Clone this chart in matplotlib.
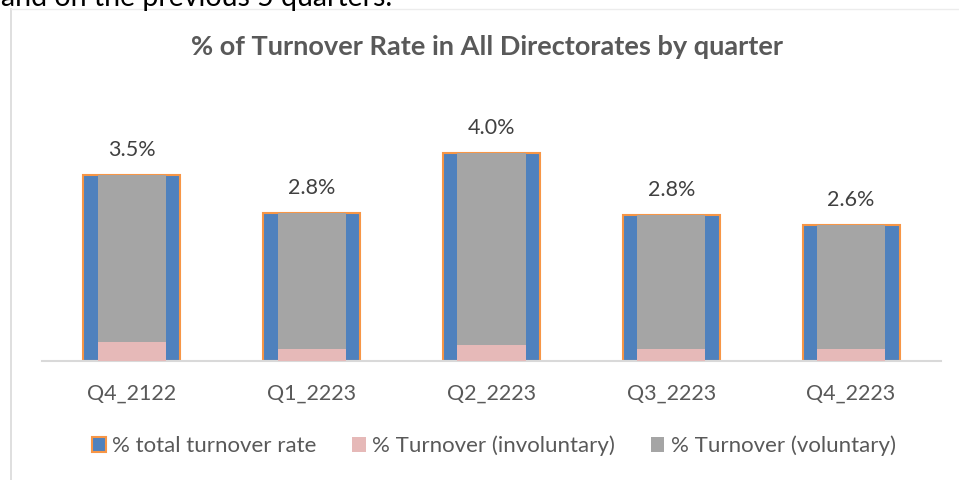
import matplotlib.pyplot as plt
from matplotlib.lines import Line2D
from matplotlib.patches import Patch

quarters = ['Q4_2122', 'Q1_2223', 'Q2_2223', 'Q3_2223', 'Q4_2223']
total = [3.54, 2.83, 3.96, 2.78, 2.59]
involuntary = [0.37, 0.23, 0.30, 0.23, 0.22]
voluntary = [t - i for t, i in zip(total, involuntary)]

plt.rcParams['font.family'] = ['Lato', 'DejaVu Sans']

W, H = 959, 480
fig = plt.figure(figsize=(W / 100, H / 100), dpi=100)

# axes placed in pixel terms: baseline at y=361, x from 42 to 941
ax = fig.add_axes([42 / W, (H - 361) / H, (941 - 42) / W, 236 / H])
x = range(len(quarters))
ax.bar(x, total, width=0.54, color='#4f81bd', edgecolor='#f79646', linewidth=1.5,
       label='% total turnover rate', zorder=2)
ax.bar(x, involuntary, width=0.38, color='#e6b9b8', label='% Turnover (involuntary)', zorder=3)
ax.bar(x, voluntary, width=0.38, bottom=involuntary, color='#a5a5a5',
       label='% Turnover (voluntary)', zorder=3)

for i, t in enumerate(total):
    ax.annotate(f'{t:.1f}%', (i, t), xytext=(0, 18), textcoords='offset points',
                ha='center', va='center', fontsize=15.5, color='#404040', clip_on=False)

ax.set_xlim(-0.5, 4.5)
ax.set_ylim(0, 4.5)
ax.set_xticks(list(x))
ax.set_xticklabels(quarters, fontsize=15.5, color='#595959')
ax.tick_params(axis='x', length=0, pad=16)
ax.set_yticks([])
for s in ['top', 'right', 'left']:
    ax.spines[s].set_visible(False)
ax.spines['bottom'].set_color('#d9d9d9')
ax.spines['bottom'].set_linewidth(1.5)

fig.text(487 / W, 1 - 47 / H, '% of Turnover Rate in All Directorates by quarter',
         ha='center', va='center', fontsize=19.5, fontweight='bold', color='#595959')

handles = [Patch(facecolor='#4f81bd', edgecolor='#f79646', linewidth=1.5),
           Patch(facecolor='#e6b9b8'), Patch(facecolor='#a5a5a5')]
labels = ['% total turnover rate', '% Turnover (involuntary)', '% Turnover (voluntary)']
fig.legend(handles, labels, loc='center', bbox_to_anchor=(494 / W, 1 - 446 / H), ncol=3,
           frameon=False, fontsize=16, labelcolor='#595959', handlelength=0.6,
           handleheight=0.6, handletextpad=0.3, columnspacing=1.6)

# chart border (partly visible) and the cut-off sentence above it
fig.add_artist(Line2D([11 / W, 11 / W], [0, 1 - 9 / H], color='#d9d9d9', linewidth=1.2))
fig.add_artist(Line2D([11 / W, 1], [1 - 9 / H, 1 - 9 / H], color='#ececec', linewidth=1))
fig.text(1 / W, 1 - 6 / H, 'and on the previous 5 quarters.', ha='left', va='baseline',
         fontsize=20.5, color='black')

fig.savefig('out.png', dpi=100)
